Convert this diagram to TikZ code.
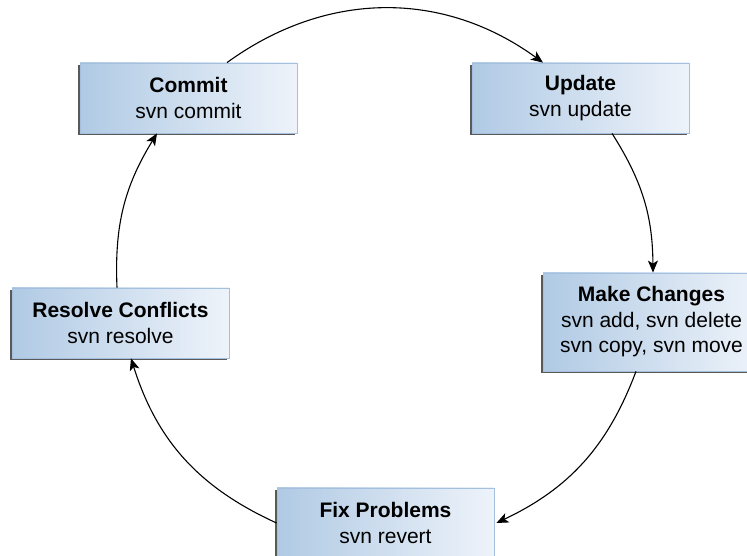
\documentclass[tikz,border=0pt]{standalone}
\usepackage{fontspec}
\setmainfont{Liberation Sans}
\usetikzlibrary{arrows.meta, positioning, shadows}
\definecolor{stageleft}{RGB}{176,202,228}
\definecolor{stageright}{RGB}{238,243,250}
\definecolor{stageedge}{RGB}{165,192,222}
\tikzstyle{stage} = [
  rectangle,
  minimum width=217pt,
  minimum height=70pt,
  text centered,
  align=center,
  inner sep=0,
  draw=stageedge,
  line width=0.8pt,
  left color=stageleft,
  right color=stageright,
  general shadow={shadow xshift=-1.6pt, shadow yshift=-1.6pt, draw=none, fill=black!65},
  font=\fontsize{21}{25.5}\selectfont
]
\tikzstyle{arrow} = [
  line width=1.1pt,
  -{Stealth[length=12pt, width=10pt, inset=3pt]}
]
\begin{document}
\begin{tikzpicture}[x=1pt, y=1pt, node distance=224pt]
    \useasboundingbox (0,0) rectangle (747,556);

    \node (commit) [stage] at (188.5,458) {\textbf{Commit}\\svn commit};
    \node (update) [stage, right of=commit, xshift=168pt] {\textbf{Update}\\svn update};
    \node (changes) [stage, below of=update, xshift=71pt, minimum height=98pt] {\textbf{Make Changes}\\svn add, svn delete\\svn copy, svn move};
    \node (fix) [stage, below of=changes, xshift=-266pt, yshift=23pt] {\textbf{Fix Problems}\\svn revert};
    \node (resolve) [stage, below of=commit, xshift=-68pt, yshift=-1pt] {\textbf{Resolve Conflicts}\\svn resolve};

    \draw [arrow] ([xshift=38.5pt]commit.north) to[bend left=36] ([xshift=-37.5pt]update.north);
    \draw [arrow] ([xshift=31.5pt]update.south) to[bend left=16] ([xshift=1.5pt]changes.north);
    \draw [arrow] ([xshift=-15.5pt]changes.south) to[bend left=22] ([xshift=2pt]fix.east);
    \draw [arrow] (fix.west) to[bend left=24] ([xshift=10.5pt]resolve.south);
    \draw [arrow] ([xshift=-3.5pt]resolve.north) to[bend left=17] ([xshift=-31.5pt]commit.south);

  \end{tikzpicture}
\end{document}
